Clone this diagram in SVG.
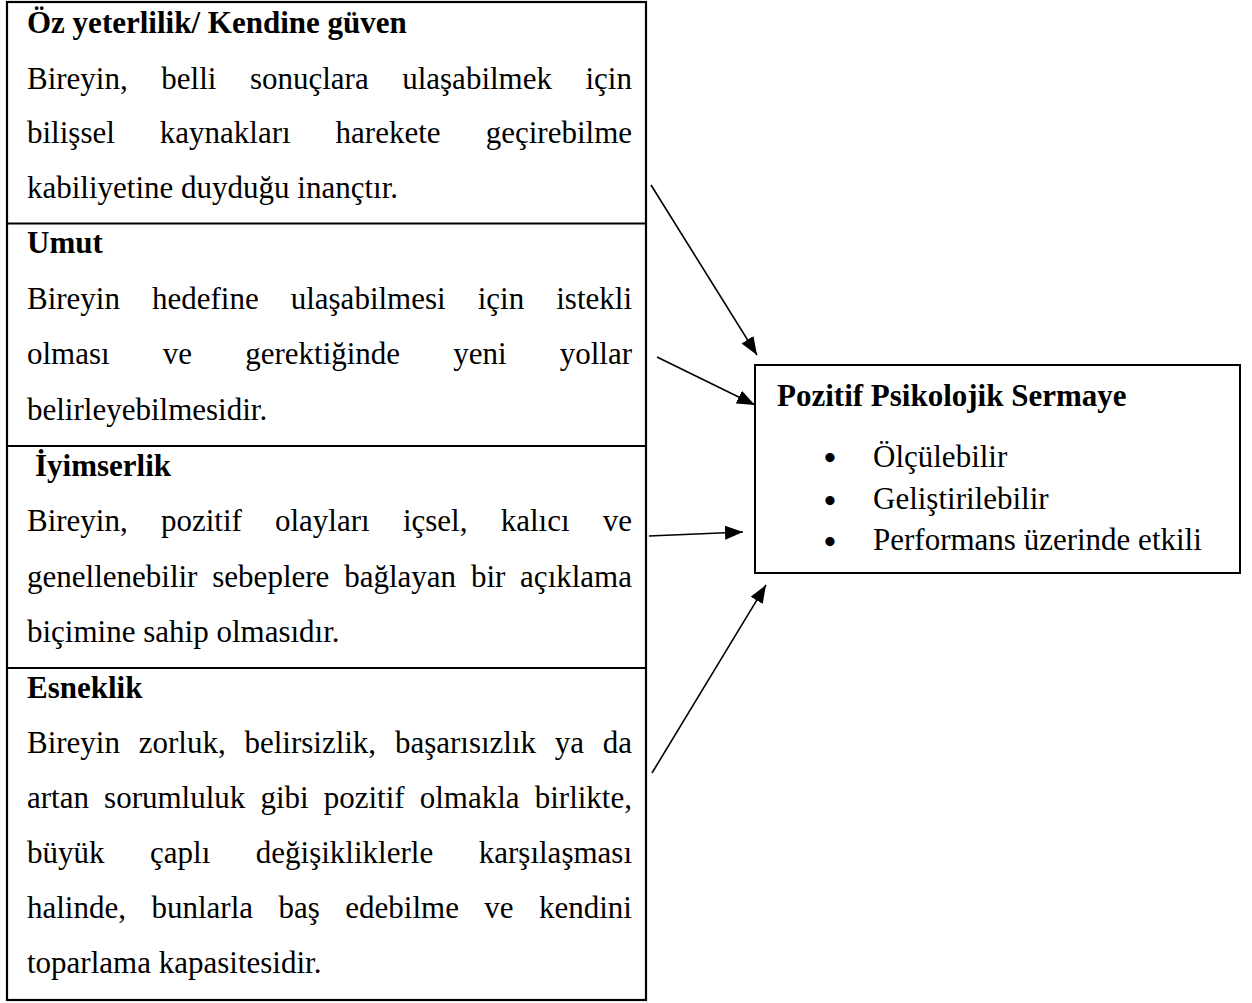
<svg xmlns="http://www.w3.org/2000/svg" width="1252" height="1003" viewBox="0 0 1252 1003">
<style>
.box{fill:none;stroke:#000;stroke-width:2.2}
.rbox{fill:#fff;stroke:#000;stroke-width:2}
.div{stroke:#000;stroke-width:2.2}
.t{font-family:"Liberation Serif","Times New Roman",serif;font-size:31px;fill:#000}
.b{font-family:"Liberation Serif","Times New Roman",serif;font-size:31px;font-weight:bold;fill:#000}
.e{text-anchor:end}
.bul{font-family:"Liberation Serif","Times New Roman",serif;font-size:34px;font-weight:bold;fill:#000;text-anchor:middle}
.conn line{stroke:#000;stroke-width:1.6;marker-end:url(#ah)}
</style>
<defs>
<marker id="ah" markerUnits="userSpaceOnUse" markerWidth="19" markerHeight="15" refX="18" refY="7" orient="auto">
<path d="M0,0 L18,7 L0,14 z" fill="#000"/>
</marker>
</defs>
<rect width="1252" height="1003" fill="#fff"/>
<g id="left-frame">
<rect class="box" x="7" y="2" width="639" height="998"/>
<line class="div" x1="7" y1="223.5" x2="646" y2="223.5"/>
<line class="div" x1="7" y1="446" x2="646" y2="446"/>
<line class="div" x1="7" y1="668" x2="646" y2="668"/>
</g>
<g id="node-ozyeterlilik">
<text class="b" x="27" y="33">Öz yeterlilik/ Kendine güven</text>
<text class="t" y="88.5"><tspan x="27">Bireyin,</tspan><tspan x="161.3">belli</tspan><tspan x="249.9">sonuçlara</tspan><tspan x="402.2">ulaşabilmek</tspan></text>
<text class="t e" x="632" y="88.5">için</text>
<text class="t" y="143"><tspan x="27">bilişsel</tspan><tspan x="159.8">kaynakları</tspan><tspan x="335.6">harekete</tspan></text>
<text class="t e" x="632" y="143">geçirebilme</text>
<text class="t" x="27" y="198">kabiliyetine duyduğu inançtır.</text>
</g>
<g id="node-umut">
<text class="b" x="27" y="253">Umut</text>
<text class="t" y="308.5"><tspan x="27">Bireyin</tspan><tspan x="152">hedefine</tspan><tspan x="290.7">ulaşabilmesi</tspan><tspan x="477.7">için</tspan></text>
<text class="t e" x="632" y="308.5">istekli</text>
<text class="t" y="364"><tspan x="27">olması</tspan><tspan x="162.8">ve</tspan><tspan x="245.2">gerektiğinde</tspan><tspan x="453.3">yeni</tspan></text>
<text class="t e" x="632" y="364">yollar</text>
<text class="t" x="27" y="420">belirleyebilmesidir.</text>
</g>
<g id="node-iyimserlik">
<text class="b" x="35" y="476">İyimserlik</text>
<text class="t" y="531"><tspan x="27">Bireyin,</tspan><tspan x="160.9">pozitif</tspan><tspan x="275">olayları</tspan><tspan x="402.9">içsel,</tspan><tspan x="500.7">kalıcı</tspan></text>
<text class="t e" x="632" y="531">ve</text>
<text class="t" y="586.5"><tspan x="27">genellenebilir</tspan><tspan x="212.3">sebeplere</tspan><tspan x="344.2">bağlayan</tspan><tspan x="470.9">bir</tspan></text>
<text class="t e" x="632" y="586.5">açıklama</text>
<text class="t" x="27" y="642">biçimine sahip olmasıdır.</text>
</g>
<g id="node-esneklik">
<text class="b" x="27" y="698">Esneklik</text>
<text class="t" y="753"><tspan x="27">Bireyin</tspan><tspan x="138.7">zorluk,</tspan><tspan x="244.4">belirsizlik,</tspan><tspan x="394.9">başarısızlık</tspan><tspan x="554.8">ya</tspan></text>
<text class="t e" x="632" y="753">da</text>
<text class="t" y="808"><tspan x="27">artan</tspan><tspan x="104.1">sorumluluk</tspan><tspan x="260.4">gibi</tspan><tspan x="323.7">pozitif</tspan><tspan x="419.7">olmakla</tspan></text>
<text class="t e" x="632" y="808">birlikte,</text>
<text class="t" y="863"><tspan x="27">büyük</tspan><tspan x="150">çaplı</tspan><tspan x="255.8">değişikliklerle</tspan></text>
<text class="t e" x="632" y="863">karşılaşması</text>
<text class="t" y="918"><tspan x="27">halinde,</tspan><tspan x="151.5">bunlarla</tspan><tspan x="278.5">baş</tspan><tspan x="345.3">edebilme</tspan><tspan x="484.3">ve</tspan></text>
<text class="t e" x="632" y="918">kendini</text>
<text class="t" x="27" y="973">toparlama kapasitesidir.</text>
</g>
<g id="node-pps">
<rect class="rbox" x="755" y="365" width="485" height="208"/>
<text class="b" x="777" y="406">Pozitif Psikolojik Sermaye</text>
<text class="bul" x="830" y="469">•</text>
<text class="t" x="873" y="467">Ölçülebilir</text>
<text class="bul" x="830" y="512">•</text>
<text class="t" x="873" y="508.5">Geliştirilebilir</text>
<text class="bul" x="830" y="553">•</text>
<text class="t" x="873" y="550">Performans üzerinde etkili</text>
</g>
<g id="connectors" class="conn">
<line x1="651" y1="185" x2="757" y2="355"/>
<line x1="657" y1="357" x2="755" y2="405"/>
<line x1="649" y1="536" x2="743" y2="532"/>
<line x1="652" y1="773" x2="766" y2="585"/>
</g>
</svg>
